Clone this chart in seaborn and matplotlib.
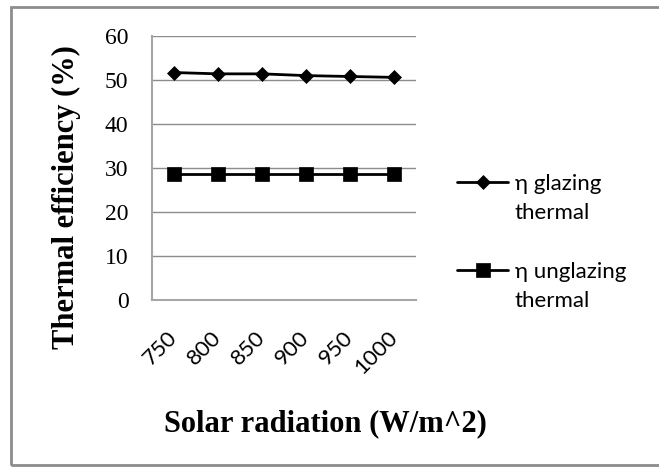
import pandas as pd
import matplotlib.pyplot as plt
import seaborn as sns
from matplotlib.lines import Line2D
from matplotlib.patches import Rectangle

# --- data ---
radiation = ['750', '800', '850', '900', '950', '1000']
eta_glazing = [51.7, 51.4, 51.4, 51.0, 50.8, 50.6]
eta_unglazing = [28.6, 28.6, 28.6, 28.6, 28.6, 28.6]
y_ticks = [0, 10, 20, 30, 40, 50, 60]
series_names = ['η glazing', 'η unglazing']

df = pd.DataFrame({
    'Solar radiation': radiation * 2,
    'eff': eta_glazing + eta_unglazing,
    'series': [series_names[0]] * 6 + [series_names[1]] * 6,
})

sns.set_theme(style='white')
# serif by default (y ticks, axis titles); x ticks and legend set to Lato below
plt.rcParams['font.family'] = ['Liberation Serif', 'DejaVu Serif']
plt.rcParams['text.color'] = 'black'
plt.rcParams['ytick.color'] = 'black'
plt.rcParams['xtick.color'] = 'black'

fig = plt.figure(figsize=(6.59, 4.72), dpi=100)
ax = fig.add_axes([0.2307, 0.3644, 0.4006, 0.5593])

sns.lineplot(data=df, x='Solar radiation', y='eff', hue='series', style='series',
             markers=['D', 's'], dashes=False, palette=['black', 'black'],
             linewidth=2, sort=False, legend=False, ax=ax)
h_glaz, h_unglaz = ax.lines[0], ax.lines[1]
h_glaz.set_markersize(7)
h_unglaz.set_markersize(10)
for ln in (h_glaz, h_unglaz):
    ln.set_markeredgecolor('black')
    ln.set_markeredgewidth(0.5)

ax.set_xlim(-0.5, 5.5)
ax.set_ylim(0, 60)
ax.tick_params(axis='both', length=0)
ax.tick_params(axis='y', pad=17, labelsize=17)
ax.tick_params(axis='x', pad=25)
ax.set_yticks(y_ticks)
ax.set_xticks(range(len(radiation)))
ax.set_xticklabels(radiation, rotation=45, ha='right', va='center',
                   rotation_mode='anchor', fontfamily='Lato', fontsize=16)
ax.yaxis.grid(True, color='#8c8c8c', linewidth=1)
ax.set_axisbelow(True)
for s in ['top', 'right']:
    ax.spines[s].set_visible(False)
for s in ['left', 'bottom']:
    ax.spines[s].set_color('#a6a6a6')
    ax.spines[s].set_linewidth(1.5)

ax.set_xlabel('Solar radiation (W/m^2)', fontweight='bold', fontsize=22, color='black')
ax.xaxis.set_label_coords(0.655, -0.47)
ax.xaxis.label.set_va('center')
ax.set_ylabel('Thermal efficiency (%)', fontweight='bold', fontsize=22, color='black')
ax.yaxis.set_label_coords(-0.326, 0.39)
ax.yaxis.label.set_va('center')
ax.yaxis.label.set_ha('center')

# legend: the marker sits on the first line of each two-line label
blank = Line2D([], [], linestyle='none')
leg = fig.legend([h_glaz, blank, blank, h_unglaz, blank],
                 [series_names[0], 'thermal', ' ', series_names[1], 'thermal'],
                 loc='upper left', bbox_to_anchor=(457 / 659, 1 - 174 / 472),
                 frameon=False, borderpad=0, borderaxespad=0,
                 prop={'family': 'Lato', 'size': 16}, handlelength=2.3,
                 handletextpad=0.3, labelspacing=0.42)

fig.patches.append(Rectangle((11 / 659, 1 - 465 / 472), 660 / 659, 458 / 472,
                             transform=fig.transFigure, fill=False,
                             edgecolor='#8c8c8c', linewidth=2))

fig.savefig('out.png', dpi=100)
